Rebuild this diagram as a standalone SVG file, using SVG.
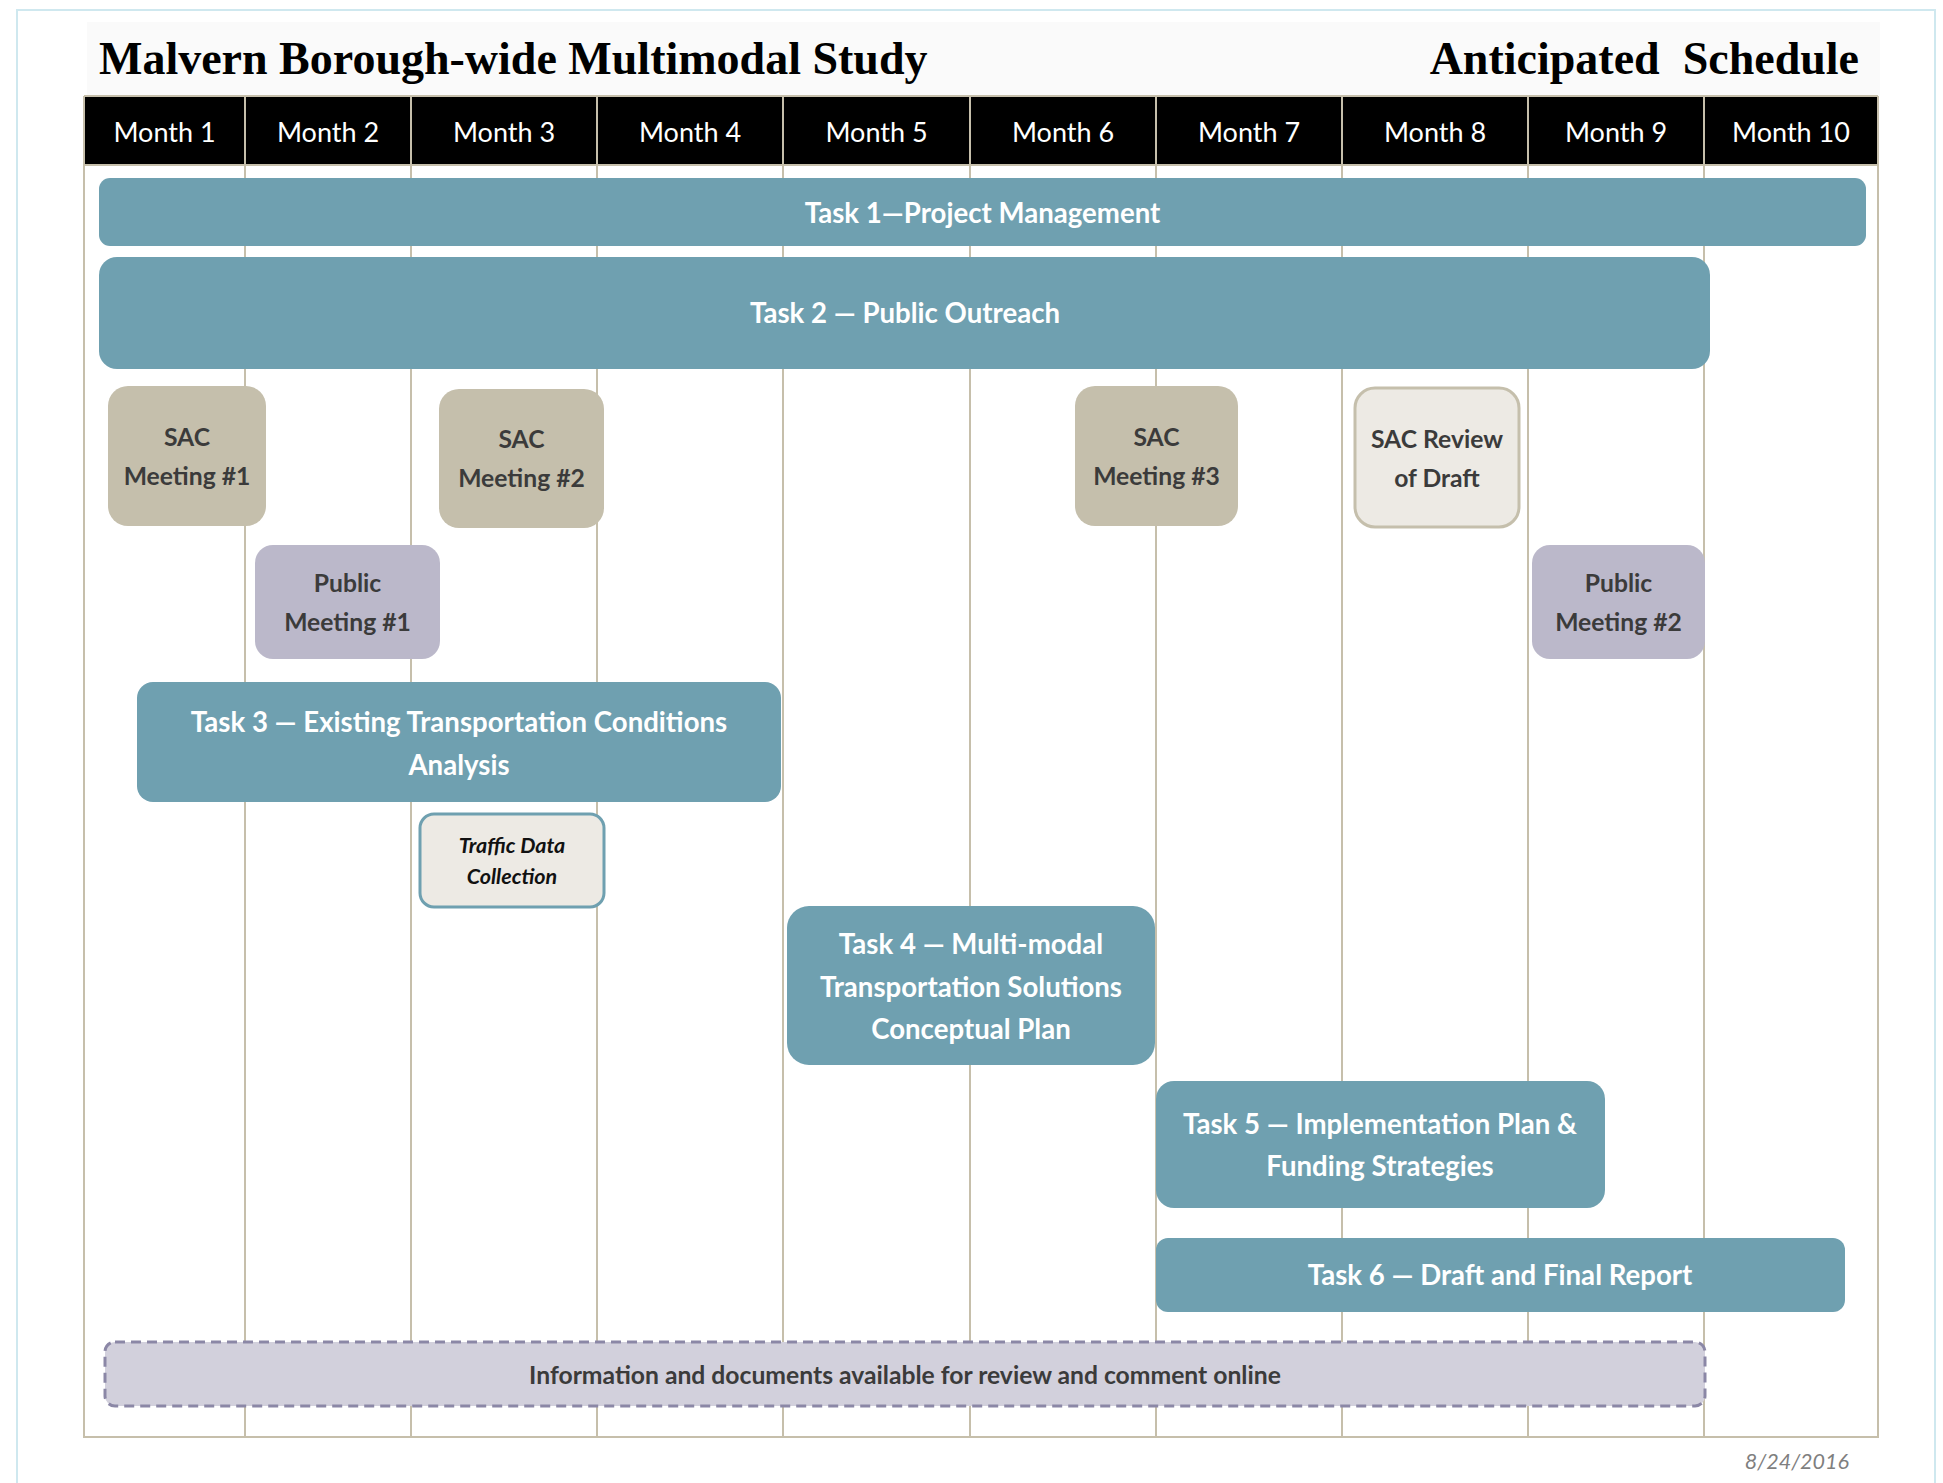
<svg xmlns="http://www.w3.org/2000/svg" width="1943" height="1483" viewBox="0 0 1943 1483">
<style>
.grid{stroke:#c6bfab;stroke-width:2;fill:none}
.task{fill:#6fa0b0}
.tt{font-family:Lato,"Open Sans",sans-serif;font-weight:bold;fill:#ffffff;text-anchor:middle;font-size:27.6px}
.mt{font-family:Lato,"Open Sans",sans-serif;fill:#ffffff;text-anchor:middle;font-size:27px}
.sac{fill:#c5bfac}
.pub{fill:#bbb8ca}
.dk{font-family:Lato,"Open Sans",sans-serif;font-weight:bold;fill:#3b3b3b;text-anchor:middle;font-size:24.7px}
.ttl{font-family:"Liberation Serif",serif;font-weight:bold;fill:#000;font-size:46px}
.it{font-family:Lato,"Open Sans",sans-serif;font-weight:bold;font-style:italic;font-size:21.5px;fill:#111;text-anchor:middle}
</style>
<rect x="0" y="0" width="1943" height="1483" fill="#ffffff"/>
<path d="M17 1483 V10 H1935 V1483" fill="none" stroke="#cfe8ef" stroke-width="2"/>
<rect x="87" y="22" width="1793" height="74" fill="#fafafa"/>
<g id="title">
<text class="ttl" x="99" y="74">Malvern Borough-wide Multimodal Study</text>
<text class="ttl" x="1859" y="74" text-anchor="end" xml:space="preserve">Anticipated  Schedule</text>
</g>
<g id="grid">
<rect x="84" y="96" width="1794" height="68" fill="#000"/>
<line class="grid" x1="84" y1="96" x2="1878" y2="96" stroke-width="3"/>
<line class="grid" x1="84" y1="165" x2="1878" y2="165"/>
<path class="grid" d="M84 96 V1437 H1878 V96" stroke-width="3"/>
<path class="grid" d="M245 96V1437M411 96V1437M597 96V1437M783 96V1437M970 96V1437M1156 96V1437M1342 96V1437M1528 96V1437M1704 96V1437"/>
<text class="mt" x="164.5" y="142">Month 1</text>
<text class="mt" x="328" y="142">Month 2</text>
<text class="mt" x="504" y="142">Month 3</text>
<text class="mt" x="690" y="142">Month 4</text>
<text class="mt" x="876.5" y="142">Month 5</text>
<text class="mt" x="1063" y="142">Month 6</text>
<text class="mt" x="1249" y="142">Month 7</text>
<text class="mt" x="1435" y="142">Month 8</text>
<text class="mt" x="1616" y="142">Month 9</text>
<text class="mt" x="1791" y="142">Month 10</text>
</g>
<g id="connectors"/>
<g id="task1">
<rect class="task" x="99" y="178" width="1767" height="68" rx="11"/>
<text class="tt" x="982.5" y="223">Task 1—Project Management</text>
</g>
<g id="task2">
<rect class="task" x="99" y="257" width="1611" height="112" rx="18"/>
<text class="tt" x="905" y="323">Task 2 — Public Outreach</text>
</g>
<g id="sac1">
<rect class="sac" x="108" y="386" width="158" height="140" rx="20"/>
<text class="dk" x="187" y="446">SAC</text>
<text class="dk" x="187" y="485">Meeting #1</text>
</g>
<g id="sac2">
<rect class="sac" x="439" y="389" width="165" height="139" rx="20"/>
<text class="dk" x="521.5" y="448">SAC</text>
<text class="dk" x="521.5" y="487">Meeting #2</text>
</g>
<g id="sac3">
<rect class="sac" x="1075" y="386" width="163" height="140" rx="20"/>
<text class="dk" x="1156.5" y="446">SAC</text>
<text class="dk" x="1156.5" y="485">Meeting #3</text>
</g>
<g id="sacreview">
<rect x="1355" y="388" width="164" height="139" rx="20" fill="#edeae4" stroke="#c5bfac" stroke-width="3"/>
<text class="dk" x="1437" y="448">SAC Review</text>
<text class="dk" x="1437" y="487">of Draft</text>
</g>
<g id="public1">
<rect class="pub" x="255" y="545" width="185" height="114" rx="18"/>
<text class="dk" x="347.5" y="592">Public</text>
<text class="dk" x="347.5" y="631">Meeting #1</text>
</g>
<g id="public2">
<rect class="pub" x="1532" y="545" width="173" height="114" rx="18"/>
<text class="dk" x="1618.5" y="592">Public</text>
<text class="dk" x="1618.5" y="631">Meeting #2</text>
</g>
<g id="task3">
<rect class="task" x="137" y="682" width="644" height="120" rx="16"/>
<text class="tt" x="459" y="732">Task 3 — Existing Transportation Conditions</text>
<text class="tt" x="459" y="775">Analysis</text>
</g>
<g id="traffic">
<rect x="420" y="814" width="184" height="93" rx="14" fill="#edeae4" stroke="#6fa0b0" stroke-width="3"/>
<text class="it" x="512" y="853">Traffic Data</text>
<text class="it" x="512" y="884">Collection</text>
</g>
<g id="task4">
<rect class="task" x="787" y="906" width="368" height="159" rx="22"/>
<text class="tt" x="971" y="954">Task 4 — Multi-modal</text>
<text class="tt" x="971" y="997">Transportation Solutions</text>
<text class="tt" x="971" y="1039">Conceptual Plan</text>
</g>
<g id="task5">
<rect class="task" x="1156" y="1081" width="449" height="127" rx="18"/>
<text class="tt" x="1380" y="1134">Task 5 — Implementation Plan &amp;</text>
<text class="tt" x="1380" y="1176">Funding Strategies</text>
</g>
<g id="task6">
<rect class="task" x="1156" y="1238" width="689" height="74" rx="12"/>
<text class="tt" x="1500" y="1285">Task 6 — Draft and Final Report</text>
</g>
<g id="online">
<rect x="105" y="1342" width="1600" height="64" rx="10" fill="#d2d0dc" stroke="#8b87a6" stroke-width="3" stroke-dasharray="10 6"/>
<text class="dk" x="905" y="1384" font-size="25.3">Information and documents available for review and comment online</text>
</g>
<text x="1849" y="1469" text-anchor="end" font-family="Lato,'Open Sans',sans-serif" font-style="italic" font-size="21.5" fill="#7f7f7f">8/24/2016</text>
</svg>
